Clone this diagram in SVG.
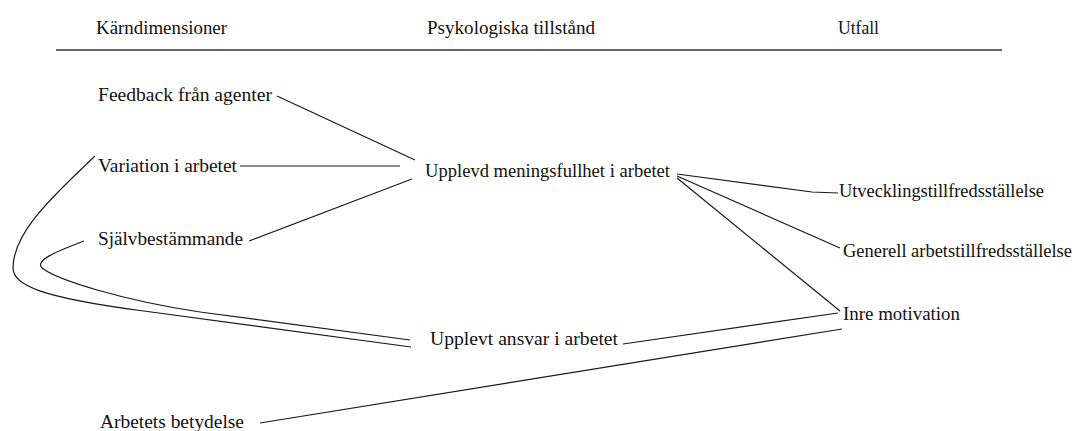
<svg xmlns="http://www.w3.org/2000/svg" width="1077" height="431" viewBox="0 0 1077 431" font-family="'Liberation Serif', 'Times New Roman', serif">
<style>
text{font-family:"Liberation Serif","Times New Roman",serif;font-size:19px;fill:#111}
.c{fill:none;stroke:#1a1a1a;stroke-width:1.2}
.rule{stroke:#666;stroke-width:2}
</style>
<rect width="1077" height="431" fill="#fff"/>
<g id="header">
<text x="96" y="34" textLength="131" lengthAdjust="spacingAndGlyphs">Kärndimensioner</text>
<text x="427" y="34" textLength="168" lengthAdjust="spacingAndGlyphs">Psykologiska tillstånd</text>
<text x="838" y="34" textLength="41" lengthAdjust="spacingAndGlyphs">Utfall</text>
<line class="rule" x1="56" y1="50" x2="1002" y2="50"/>
</g>
<g id="connectors">
<line class="c" x1="277" y1="96" x2="415" y2="160"/>
<line class="c" x1="240" y1="166" x2="400" y2="166"/>
<line class="c" x1="249" y1="241" x2="412" y2="179"/>
<path class="c" d="M95,156 C60,190 13,230 13,268 C13,285 40,297 140,310.5 L411,347"/>
<path class="c" d="M84,241 C55,252 30,262 45,270 C60,280 120,300 200,312 L410,340"/>
<polyline class="c" points="677,174 812,192 838,193"/>
<line class="c" x1="677" y1="176" x2="840" y2="248"/>
<line class="c" x1="677" y1="178" x2="840" y2="311"/>
<line class="c" x1="623" y1="344" x2="838" y2="313"/>
<line class="c" x1="260" y1="423" x2="842" y2="329"/>
</g>
<g id="n-feedback"><text x="98" y="101" textLength="174" lengthAdjust="spacingAndGlyphs">Feedback från agenter</text></g>
<g id="n-variation"><text x="98" y="172" textLength="139" lengthAdjust="spacingAndGlyphs">Variation i arbetet</text></g>
<g id="n-sjalv"><text x="98" y="245" textLength="145" lengthAdjust="spacingAndGlyphs">Självbestämmande</text></g>
<g id="n-betydelse"><text x="100" y="428" textLength="144" lengthAdjust="spacingAndGlyphs">Arbetets betydelse</text></g>
<g id="n-mening"><text x="425" y="177" textLength="245" lengthAdjust="spacingAndGlyphs">Upplevd meningsfullhet i arbetet</text></g>
<g id="n-ansvar"><text x="430" y="345" textLength="188" lengthAdjust="spacingAndGlyphs">Upplevt ansvar i arbetet</text></g>
<g id="n-utveckling"><text x="839" y="197" textLength="205" lengthAdjust="spacingAndGlyphs">Utvecklingstillfredsställelse</text></g>
<g id="n-generell"><text x="843" y="257" textLength="229" lengthAdjust="spacingAndGlyphs">Generell arbetstillfredsställelse</text></g>
<g id="n-inre"><text x="843" y="320" textLength="117" lengthAdjust="spacingAndGlyphs">Inre motivation</text></g>
</svg>
